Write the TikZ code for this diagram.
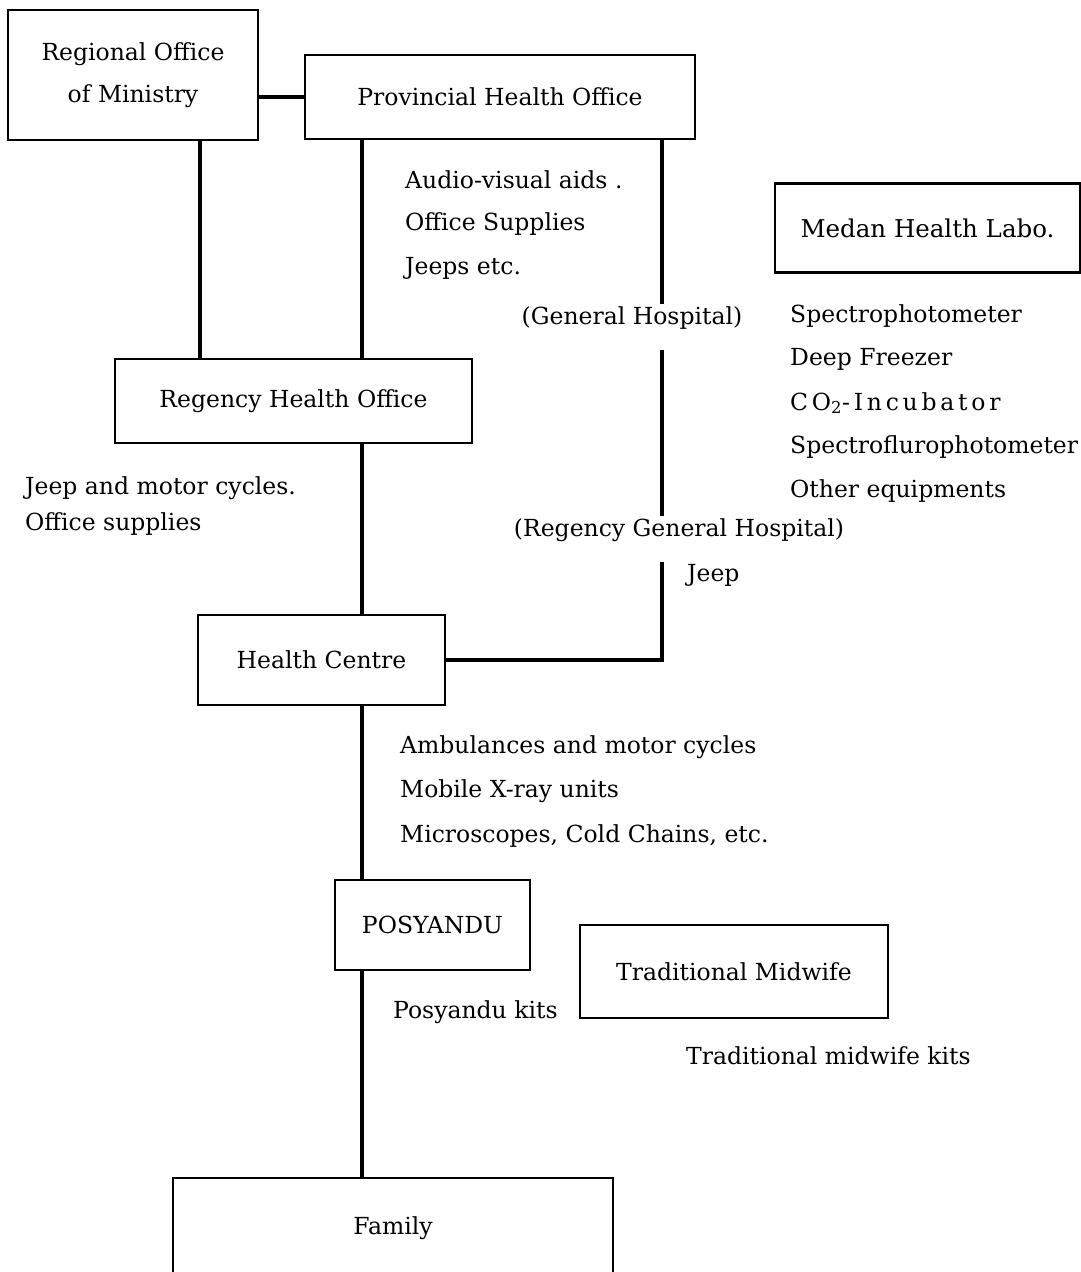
\documentclass[tikz,border=0pt]{standalone}
\usepackage{fontspec}
\setmainfont{DejaVu Serif}
\usetikzlibrary{calc}
\begin{document}
\begin{tikzpicture}[x=1pt,y=-1pt,
  box/.style={draw,line width=2.6pt,inner sep=0pt,align=center,font=\fontsize{23.5}{42}\selectfont},
  conn/.style={line width=3.2pt},
  lbl/.style={anchor=west,inner sep=0pt,font=\fontsize{23.5}{28}\selectfont},
  hosp/.style={inner sep=0pt,font=\fontsize{23.5}{28}\selectfont}]
\useasboundingbox (0,0) rectangle (1081,1272);
% boxes
\node[box,minimum width=250pt,minimum height=130pt] (reg) at (133,75) {Regional Office\\of Ministry};
\node[box,minimum width=390pt,minimum height=84pt] (prov) at (500,97) {Provincial Health Office};
\node[box,minimum width=357pt,minimum height=84pt] (regency) at (293.5,401) {Regency Health Office};
\node[box,minimum width=247pt,minimum height=90pt] (hc) at (321.5,660) {Health Centre};
\node[box,minimum width=195pt,minimum height=90pt] (pos) at (432.5,925) {POSYANDU};
\node[box,minimum width=308pt,minimum height=93pt] (tm) at (734,971.5) {Traditional Midwife};
\node[box,minimum width=440pt,minimum height=100pt] (fam) at (393,1228) {Family};
\node[box,minimum width=305pt,minimum height=89pt,font=\fontsize{24.5}{28}\selectfont] (labo) at (927.5,228) {Medan Health Labo.};
% hospital labels
\node[hosp] (gh) at (632,318) {(General Hospital)};
\node[hosp] (rgh) at (679,530) {(Regency General Hospital)};
% connectors
\draw[conn] (reg.east |- 0,97) -- (prov.west |- 0,97);
\draw[conn] (reg.south -| 200,0) -- (regency.north -| 200,0);
\draw[conn] (prov.south -| 362,0) -- (regency.north -| 362,0);
\draw[conn] (regency.south -| 362,0) -- (hc.north -| 362,0);
\draw[conn] (hc.south -| 362,0) -- (pos.north -| 362,0);
\draw[conn] (pos.south -| 362,0) -- (fam.north -| 362,0);
\draw[conn] (prov.south -| 662,0) -- ($(gh.north -| 662,0)+(0,-2)$);
\draw[conn] ($(gh.south -| 662,0)+(0,20)$) -- ($(rgh.north -| 662,0)+(0,-2)$);
\draw[conn] ($(rgh.south -| 662,0)+(0,20)$) -- (662,660) -- (hc.east |- 0,660);
% labels
\node[lbl] (l1) at (405,180) {Audio-visual aids .};
\node[lbl] (l2) at (405,224) {Office Supplies};
\node[lbl] (l3) at (405,268) {Jeeps etc.};
\node[lbl] (m1) at (790,316) {Spectrophotometer};
\node[lbl] (m2) at (790,359) {Deep Freezer};
\node[lbl] (m3) at (790,403) {\addfontfeatures{LetterSpace=16}CO\textsubscript{2}-Incubator};
\node[lbl] (m4) at (790,447) {Spectroflurophotometer};
\node[lbl] (m5) at (790,491) {Other equipments};
\node[lbl] (r1) at (25,488) {Jeep and motor cycles.};
\node[lbl] (r2) at (25,524) {Office supplies};
\node[lbl] (j1) at (687,575) {Jeep};
\node[lbl] (h1) at (400,747) {Ambulances and motor cycles};
\node[lbl] (h2) at (400,791) {Mobile X-ray units};
\node[lbl] (h3) at (400,836) {Microscopes, Cold Chains, etc.};
\node[lbl] (p1) at (393,1012) {Posyandu kits};
\node[lbl] (t1) at (686,1056) {Traditional midwife kits};
\end{tikzpicture}
\end{document}
